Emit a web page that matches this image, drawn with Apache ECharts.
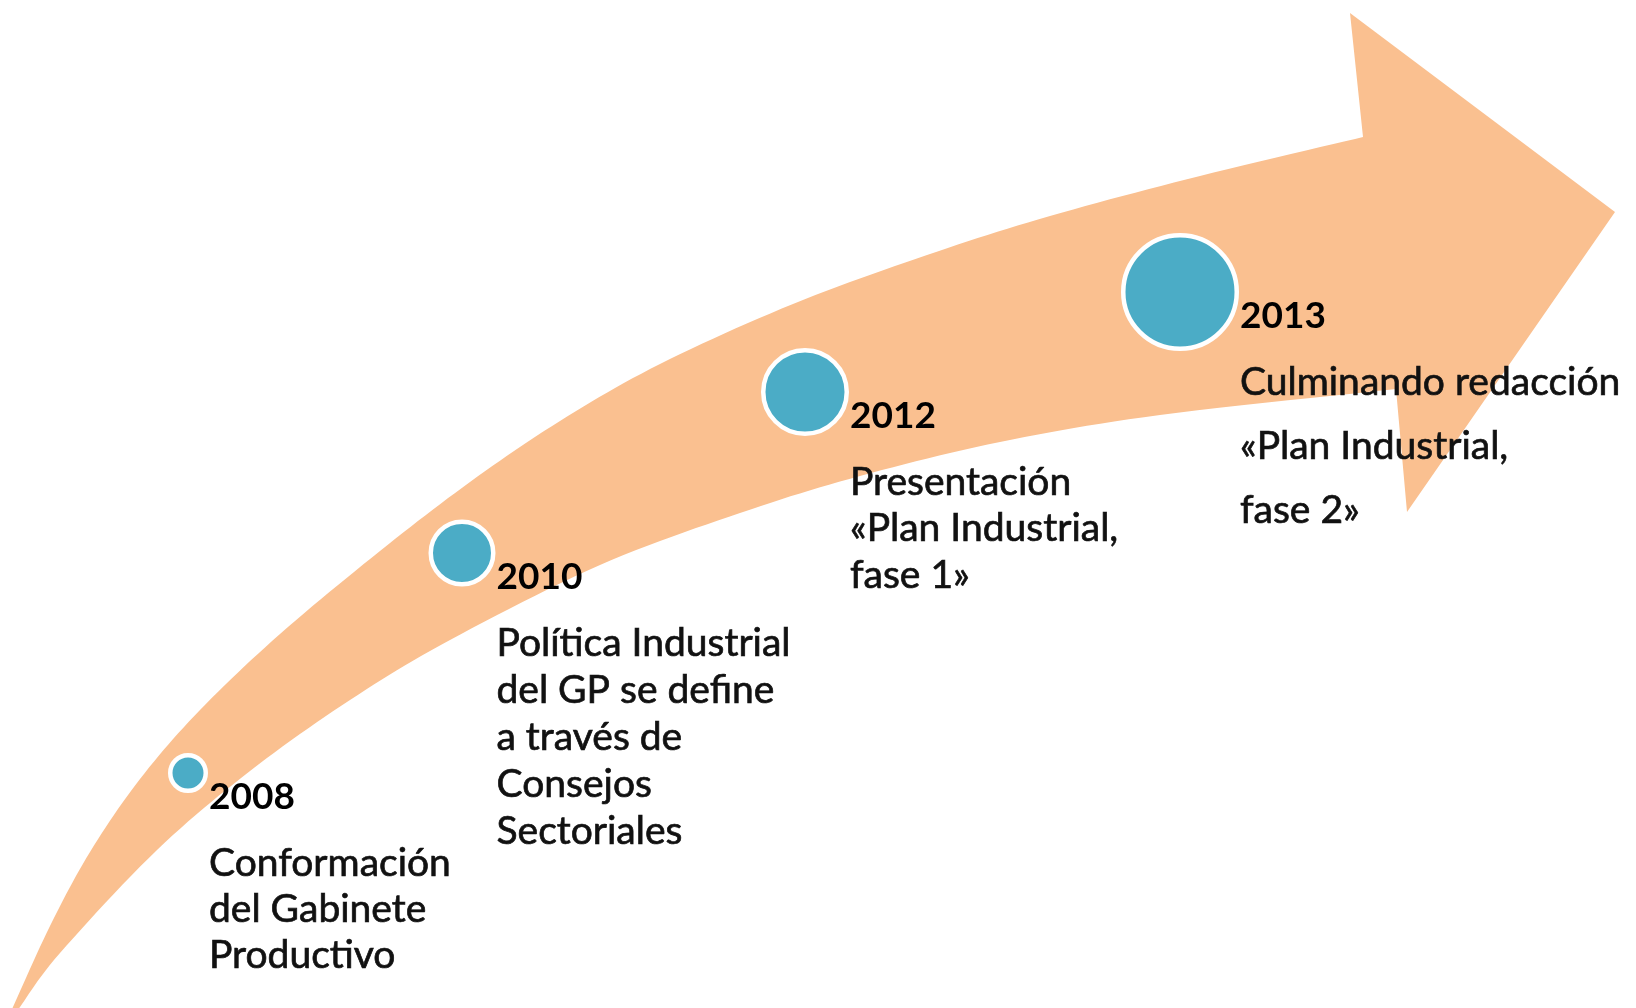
<!DOCTYPE html>
<html>
<head>
<meta charset="utf-8">
<script src="https://cdn.jsdelivr.net/npm/echarts@6/dist/echarts.min.js"></script>
<style>
  html, body { margin: 0; padding: 0; background: #fff; }
  #chart { width: 1636px; height: 1008px; }
</style>
</head>
<body>
<div id="chart"></div>
<script>
// hitos de la línea de tiempo
const years = ['2008', '2010', '2012', '2013']
const descriptions = [
  ['Conformación', 'del Gabinete', 'Productivo'],
  ['Política Industrial', 'del GP se define', 'a través de', 'Consejos', 'Sectoriales'],
  ['Presentación', '«Plan Industrial,', 'fase 1»'],
  ['Culminando redacción', '«Plan Industrial,', 'fase 2»'],
]
const milestoneX = [188, 462, 805, 1180]
const milestoneY = [773, 553, 392, 292]
const milestoneSize = [40, 67, 88, 118]

// contorno de la flecha (borde superior, punta, borde inferior)
const arrowUpperEdge = [
  [7, 1020], [13, 1007], [50, 926], [90, 852], [140, 779], [200, 710], [280, 634],
  [380, 551], [470, 482], [560, 421], [660, 364], [793, 304], [927, 255],
  [1050, 216], [1200, 176], [1363, 137],
]
const arrowHead = [[1350, 13], [1615, 212], [1407, 512]]
const arrowLowerEdge = [
  [12, 1020], [20, 1007], [60, 953], [157, 850], [250, 771], [350, 700], [450, 640],
  [600, 565], [740, 513], [860, 476], [1000, 442], [1160, 415], [1396, 389],
]

const lineGaps = [46, 47, 46.5, 64]
const FONT = 'Lato, "Open Sans", sans-serif'

// suaviza una polilínea con Catmull-Rom
function catmull(pts, steps) {
  const out = []
  for (let i = 0; i < pts.length - 1; i++) {
    const p0 = pts[i - 1] || pts[i]
    const p1 = pts[i]
    const p2 = pts[i + 1]
    const p3 = pts[i + 2] || pts[i + 1]
    for (let s = 0; s < steps; s++) {
      const t = s / steps, t2 = t * t, t3 = t2 * t
      out.push([0, 1].map(k => 0.5 * (2 * p1[k] + (-p0[k] + p2[k]) * t +
        (2 * p0[k] - 5 * p1[k] + 4 * p2[k] - p3[k]) * t2 +
        (-p0[k] + 3 * p1[k] - 3 * p2[k] + p3[k]) * t3)))
    }
  }
  out.push(pts[pts.length - 1])
  return out
}

const chart = echarts.init(document.getElementById('chart'))

chart.setOption({
  animation: false,
  backgroundColor: '#ffffff',
  grid: { left: 0, right: 0, top: 0, bottom: 0 },
  xAxis: { type: 'value', min: 0, max: 1636, show: false },
  yAxis: { type: 'value', min: 0, max: 1008, inverse: true, show: false },
  series: [
    {
      type: 'custom',
      name: 'flecha',
      silent: true,
      clip: false,
      data: [[0, 0]],
      renderItem: (params, api) => {
        const toPx = p => api.coord(p)
        const upper = catmull(arrowUpperEdge.map(toPx), 12)
        const lower = catmull(arrowLowerEdge.map(toPx), 12).reverse()
        const head = arrowHead.map(toPx)
        return {
          type: 'polygon',
          shape: { points: upper.concat(head, lower) },
          style: { fill: '#FAC090' },
        }
      },
    },
    {
      type: 'scatter',
      name: 'hitos',
      silent: true,
      data: years.map((y, i) => [milestoneX[i], milestoneY[i], milestoneSize[i]]),
      symbol: 'circle',
      symbolSize: d => d[2] - 4.5,
      itemStyle: { color: '#4BACC6', borderColor: '#ffffff', borderWidth: 4.5, opacity: 1 },
      emphasis: { disabled: true },
      z: 3,
    },
    {
      type: 'custom',
      name: 'textos',
      silent: true,
      clip: false,
      z: 4,
      data: years.map((y, i) => [milestoneX[i], milestoneY[i], milestoneSize[i]]),
      renderItem: (params, api) => {
        const i = params.dataIndex
        const c = api.coord([api.value(0), api.value(1)])
        const r = api.value(2) / 2
        const x = c[0] + r + 1
        const yYear = c[1] + 24
        const children = [{
          type: 'text',
          style: {
            text: years[i], x, y: yYear,
            fill: '#000', font: `bold 37px ${FONT}`,
            align: 'left', verticalAlign: 'middle',
          },
        }]
        descriptions[i].forEach((line, j) => {
          children.push({
            type: 'text',
            style: {
              text: line, x, y: yYear + 66 + j * lineGaps[i],
              fill: '#111', stroke: '#111', lineWidth: 0.7,
              font: `39px ${FONT}`,
              align: 'left', verticalAlign: 'middle',
            },
          })
        })
        return { type: 'group', children }
      },
    },
  ],
})

window.addEventListener('resize', () => chart.resize())
</script>
</body>
</html>
